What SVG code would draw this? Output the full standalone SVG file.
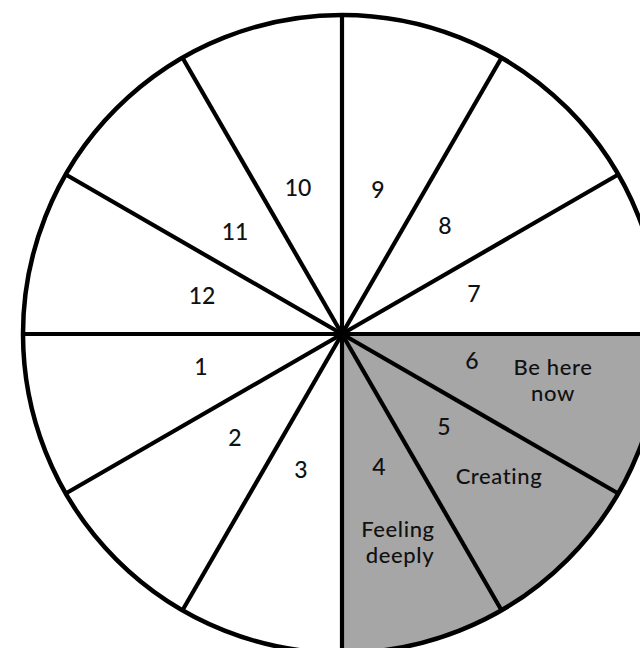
<svg xmlns="http://www.w3.org/2000/svg" width="640" height="648" viewBox="0 0 640 648">
  <style>
    .rim { fill: none; stroke: #000; stroke-width: 4.5; }
    .spoke { stroke: #000; stroke-width: 4.2; stroke-linecap: butt; }
    .num { font-family: Lato, "Open Sans", "DejaVu Sans", sans-serif; font-size: 23px; font-weight: 500; fill: #111; text-anchor: middle; }
    .lbl { font-family: Lato, "Open Sans", "DejaVu Sans", sans-serif; font-size: 22px; font-weight: 500; letter-spacing: 0.6px; fill: #111; text-anchor: middle; }
  </style>
  <rect width="640" height="648" fill="#fff"/>
  <g id="shaded-quadrant">
    <path d="M342,334 L661,334 A319,319 0 0 1 342,653 Z" fill="#a6a6a6"/>
  </g>
  <g id="wheel">
    <circle class="rim" cx="342" cy="334" r="319"/>
  </g>
  <g id="spokes">
    <line class="spoke" x1="342" y1="334" x2="342" y2="15"/>
    <line class="spoke" x1="342" y1="334" x2="501.5" y2="57.7"/>
    <line class="spoke" x1="342" y1="334" x2="618.3" y2="174.5"/>
    <line class="spoke" x1="342" y1="334" x2="661" y2="334"/>
    <line class="spoke" x1="342" y1="334" x2="618.3" y2="493.5"/>
    <line class="spoke" x1="342" y1="334" x2="501.5" y2="610.3"/>
    <line class="spoke" x1="342" y1="334" x2="342" y2="653"/>
    <line class="spoke" x1="342" y1="334" x2="182.5" y2="610.3"/>
    <line class="spoke" x1="342" y1="334" x2="65.7" y2="493.5"/>
    <line class="spoke" x1="342" y1="334" x2="23" y2="334"/>
    <line class="spoke" x1="342" y1="334" x2="65.7" y2="174.5"/>
    <line class="spoke" x1="342" y1="334" x2="182.5" y2="57.7"/>
    <circle cx="342" cy="334" r="7" fill="#000"/>
  </g>
  <g id="sector-1"><text class="num" x="201" y="375">1</text></g>
  <g id="sector-2"><text class="num" x="235" y="446">2</text></g>
  <g id="sector-3"><text class="num" x="301" y="478">3</text></g>
  <g id="sector-4">
    <text class="num" x="379" y="475">4</text>
    <text class="lbl" x="398" y="537">Feeling</text>
    <text class="lbl" x="400" y="563">deeply</text>
  </g>
  <g id="sector-5">
    <text class="num" x="444" y="435">5</text>
    <text class="lbl" x="499" y="484">Creating</text>
  </g>
  <g id="sector-6">
    <text class="num" x="472" y="369">6</text>
    <text class="lbl" x="553" y="375">Be here</text>
    <text class="lbl" x="553" y="401">now</text>
  </g>
  <g id="sector-7"><text class="num" x="474" y="302">7</text></g>
  <g id="sector-8"><text class="num" x="445" y="234">8</text></g>
  <g id="sector-9"><text class="num" x="378" y="198">9</text></g>
  <g id="sector-10"><text class="num" x="298" y="196">10</text></g>
  <g id="sector-11"><text class="num" x="235" y="240">11</text></g>
  <g id="sector-12"><text class="num" x="202" y="304">12</text></g>
</svg>
